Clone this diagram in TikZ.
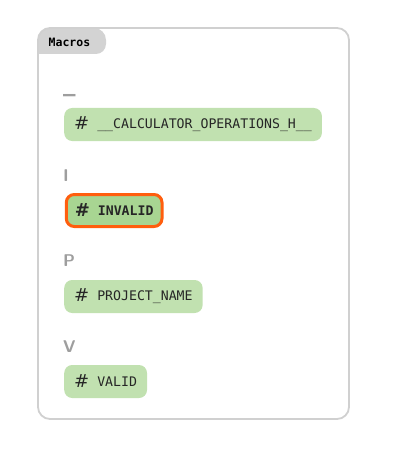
\documentclass[tikz,border=0pt]{standalone}
\usepackage{fontspec}
\setmainfont{Liberation Sans}
\setmonofont{DejaVu Sans Mono}
\newfontfamily\hashfont{DejaVu Sans}
\usetikzlibrary{positioning}
\definecolor{framegray}{RGB}{208,208,208}
\definecolor{tabgray}{RGB}{211,211,211}
\definecolor{headgray}{RGB}{158,158,158}
\definecolor{macrogreen}{RGB}{193,225,176}
\definecolor{selgreen}{RGB}{168,213,146}
\definecolor{selorange}{RGB}{255,94,14}

\newcommand{\macroname}[1]{\raisebox{-1pt}{\hashfont\fontsize{18}{18}\selectfont\#}\hspace{8pt}#1}

\begin{document}
\begin{tikzpicture}[x=1pt,y=-1pt,
	macrobox/.style={anchor=west, fill=macrogreen, rounded corners=8pt, minimum height=33pt, inner xsep=10pt, inner ysep=0pt, text=black!85, font=\ttfamily\fontsize{13.2}{13.2}\selectfont},
	selbox/.style={macrobox, fill=selgreen, draw=selorange, line width=3pt, minimum height=32pt, inner xsep=8.5pt, font=\ttfamily\bfseries\fontsize{13.2}{13.2}\selectfont},
	letterhead/.style={anchor=base west, inner sep=0pt, text=headgray, font=\sffamily\bfseries\fontsize{17}{17}\selectfont},
	]
	\useasboundingbox (0,0) rectangle (404,468);
	% tab and frame
	\fill[tabgray] (38,54) [rounded corners=12pt] -- (38,28) -- (106,28) [rounded corners=10pt] -- (106,54) [sharp corners] -- cycle;
	\draw[framegray, line width=1.8pt, rounded corners=12pt] (38,28) rectangle (349,419);
	\node[anchor=west, inner sep=0pt, font=\ttfamily\bfseries\fontsize{11.5}{11.5}\selectfont] at (48.5, 42.5) (macros-tab) {Macros};
	% groups
	\node[letterhead] at (63, 94) (head-u) {\_};
	\node[macrobox] at (64, 124.5) (calc-ops) {\macroname{\_\_CALCULATOR\_OPERATIONS\_H\_\_}};
	\node[letterhead] at (63, 181) (head-i) {I};
	\node[selbox] at (64.8, 210.5) (invalid) {\macroname{INVALID}};
	\node[letterhead] at (63, 266) (head-p) {P};
	\node[macrobox] at (64, 296.5) (project-name) {\macroname{PROJECT\_NAME}};
	\node[letterhead] at (63, 352) (head-v) {V};
	\node[macrobox] at (64, 381.5) (valid) {\macroname{VALID}};
\end{tikzpicture}
\end{document}
